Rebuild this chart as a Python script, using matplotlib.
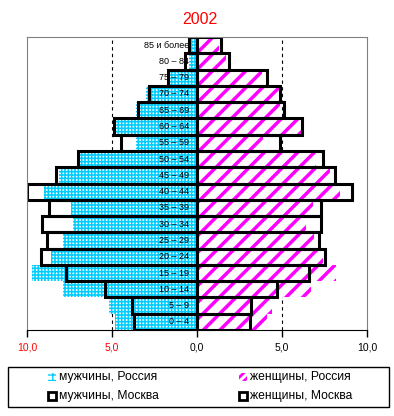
import matplotlib.pyplot as plt
import matplotlib.patches as mpatches
import numpy as np

plt.rcParams['font.family'] = ['Liberation Sans', 'DejaVu Sans']

ages = ['0 – 4', '5 – 9', '10 – 14', '15 – 19', '20 – 24', '25 – 29', '30 – 34',
        '35 – 39', '40 – 44', '45 – 49', '50 – 54', '55 – 59', '60 – 64',
        '65 – 69', '70 – 74', '75 – 79', '80 – 84', '85 и более']

# percent of population, bottom (0-4) to top (85+)
men_russia = [4.8, 5.2, 7.9, 9.7, 8.6, 7.9, 7.3, 7.4, 9.0, 8.1, 6.9, 3.6, 4.9,
              3.6, 3.0, 1.7, 0.5, 0.4]
women_russia = [4.1, 4.4, 6.7, 8.2, 7.4, 6.9, 6.4, 6.8, 8.4, 7.8, 7.0, 3.9, 6.1,
                4.9, 5.0, 3.8, 1.7, 1.3]
men_moscow = [3.7, 3.8, 5.4, 7.7, 9.2, 8.8, 9.1, 8.7, 10.0, 8.3, 7.0, 4.5, 4.9,
              3.5, 2.8, 1.7, 0.7, 0.5]
women_moscow = [3.1, 3.2, 4.7, 6.6, 7.5, 7.2, 7.3, 7.3, 9.1, 8.1, 7.4, 4.9, 6.2,
                5.1, 4.9, 4.1, 1.9, 1.4]

legend_labels = ['мужчины, Россия', 'женщины, Россия',
                 'мужчины, Москва', 'женщины, Москва']

y = np.arange(len(ages))
cyan = '#00ccff'
magenta = '#ff00ff'
W, H = 394, 416

fig = plt.figure(figsize=(3.94, 4.16), dpi=100)
ax = fig.add_axes([27 / W, 1 - 330 / H, 340 / W, 293 / H])

ax.axvline(-5, color='black', ls=(0, (3, 3)), lw=0.8, zorder=0)
ax.axvline(5, color='black', ls=(0, (3, 3)), lw=0.8, zorder=0)

with plt.rc_context({'hatch.linewidth': 1.1}):
    ax.barh(y, -np.array(men_russia), height=1.0, color='white', edgecolor=cyan,
            hatch='+++++', lw=0, zorder=1)
with plt.rc_context({'hatch.linewidth': 2.5}):
    ax.barh(y, women_russia, height=1.0, color='white', edgecolor=magenta,
            hatch='//', lw=0, zorder=1)

ax.barh(y, -np.array(men_moscow), height=1.0, fill=False, edgecolor='black',
        lw=2.2, zorder=2)
ax.barh(y, women_moscow, height=1.0, fill=False, edgecolor='black',
        lw=2.2, zorder=2)

for i, lab in enumerate(ages):
    ax.text(-0.45, i, lab, ha='right', va='center', fontsize=6.5, zorder=3)

ax.set_xlim(-10, 10)
ax.set_ylim(-0.5, 17.5)
ax.set_yticks([])
ax.set_xticks([-10, -5, 0, 5, 10])
ax.set_xticklabels(['10,0', '5,0', '0,0', '5,0', '10,0'], fontsize=7.5)
for lbl in ax.get_xticklabels()[:2]:
    lbl.set_color('red')
ax.tick_params(axis='x', direction='out', length=5, width=1, pad=4)
for s in ['left', 'top', 'right']:
    ax.spines[s].set_color('gray')
ax.spines['bottom'].set_color('black')

fig.text(200 / W, 1 - 20 / H, '2002', color='red', fontsize=11.5,
         ha='center', va='center')

# legend drawn by hand
fig.add_artist(mpatches.Rectangle((8 / W, 1 - 407 / H), 381 / W, 40 / H,
                                  transform=fig.transFigure, facecolor='white',
                                  edgecolor='black', lw=1))
styles = [dict(edgecolor=cyan, hatch='+++', lw=0, hl=1.0),
          dict(edgecolor=magenta, hatch='////', lw=0, hl=2.0),
          dict(edgecolor='black', hatch=None, lw=2, hl=1.0),
          dict(edgecolor='black', hatch=None, lw=2, hl=1.0)]
xs = [48, 239, 48, 239]
ys = [377, 377, 396, 396]
for lab, st, x0, y0 in zip(legend_labels, styles, xs, ys):
    with plt.rc_context({'hatch.linewidth': st['hl']}):
        p = mpatches.Rectangle((x0 / W, 1 - (y0 + 4) / H), 8 / W, 8 / H,
                               transform=fig.transFigure, facecolor='white',
                               edgecolor=st['edgecolor'], hatch=st['hatch'],
                               lw=st['lw'])
    fig.add_artist(p)
    fig.text((x0 + 11) / W, 1 - y0 / H, lab, fontsize=8.7, ha='left',
             va='center')

fig.savefig('out.png', dpi=100)
